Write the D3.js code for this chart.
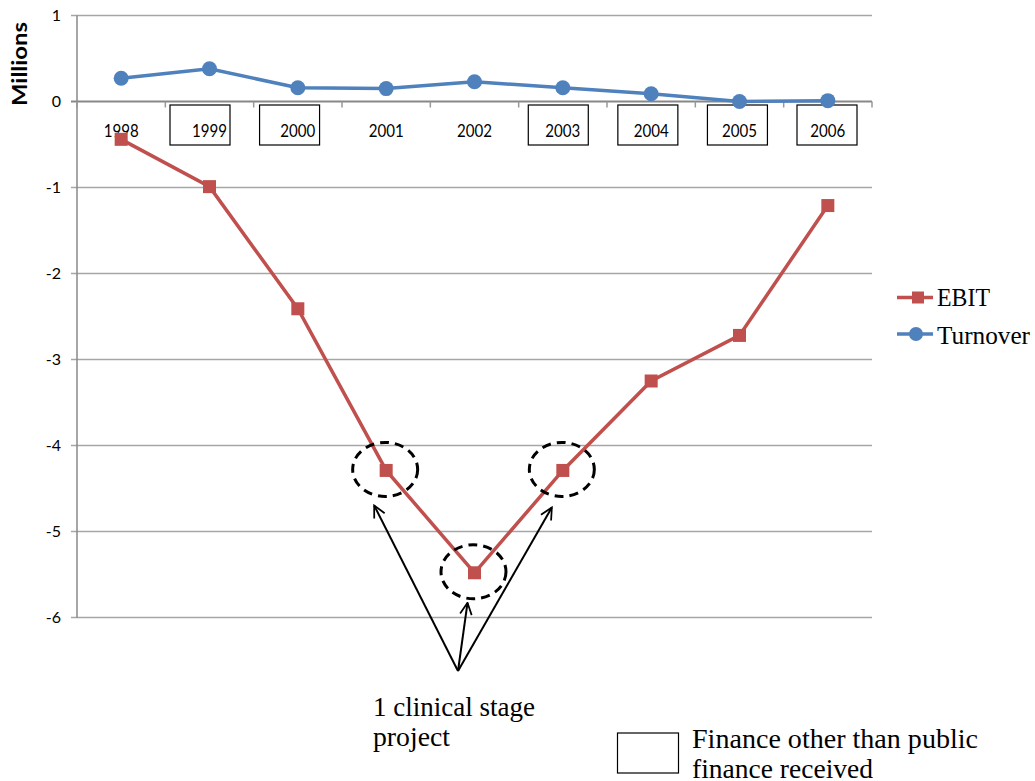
<!DOCTYPE html>
<html><head><meta charset="utf-8">
<script src="https://cdn.jsdelivr.net/npm/d3@7"></script>
<style>body{margin:0;background:#fff}svg{display:block}</style>
</head><body>
<script>
const years = ["1998","1999","2000","2001","2002","2003","2004","2005","2006"];
const turnover = [0.27,0.38,0.16,0.15,0.23,0.16,0.09,0.00,0.01];
const ebit = [-0.44,-0.99,-2.41,-4.29,-5.48,-4.29,-3.25,-2.72,-1.21];
const yTicks = [1,0,-1,-2,-3,-4,-5,-6];
const boxedYears = ["1999","2000","2003","2004","2005","2006"];
const highlighted = ["2001","2002","2003"];

const W=1035,H=781;
const svg=d3.select("body").append("svg").attr("width",W).attr("height",H);
const x=d3.scaleBand().domain(years).range([77,872]);
const y=d3.scaleLinear().domain([-6,1]).range([617.5,15.5]);
// hand-placed boxes follow a slightly different spacing than the categories
const boxX=d3.scaleLinear().domain([1,8]).range([170,797]);
const sans="Lato, 'Liberation Sans', sans-serif", serif="'Liberation Serif','Times New Roman',serif";

// gridlines
svg.append("g").selectAll("line").data(yTicks).join("line")
  .attr("x1",71).attr("x2",872).attr("y1",d=>y(d)).attr("y2",d=>y(d))
  .attr("stroke",d=>d===0?"#888":"#a6a6a6").attr("stroke-width",d=>d===0?2:1.5);
// y axis
svg.append("line").attr("x1",77).attr("x2",77).attr("y1",y(1)).attr("y2",y(-6)).attr("stroke","#888").attr("stroke-width",1.5);
svg.append("g").selectAll("text").data(yTicks).join("text")
  .attr("x",61).attr("y",d=>y(d)).attr("dy","0.36em").attr("text-anchor","end")
  .attr("font-family",sans).attr("font-size",16).attr("fill","#000").text(d=>d);
// category ticks on zero line
const bounds=years.map(d=>x(d)).concat([x.range()[1]]);
svg.append("g").selectAll("line").data(bounds).join("line")
  .attr("x1",d=>d).attr("x2",d=>d).attr("y1",y(0)).attr("y2",y(0)+6).attr("stroke","#999").attr("stroke-width",1.5);
// boxes
svg.append("g").selectAll("rect").data(boxedYears).join("rect")
  .attr("x",d=>boxX(years.indexOf(d))).attr("y",105).attr("width",60).attr("height",40)
  .attr("fill","#fff").attr("stroke","#000").attr("stroke-width",1.2);
// category labels
svg.append("g").selectAll("text").data(years).join("text")
  .attr("x",d=>x(d)+x.bandwidth()/2-17.5).attr("y",137)
  .attr("textLength",35).attr("lengthAdjust","spacingAndGlyphs")
  .attr("font-family",sans).attr("font-size",16.5).attr("fill","#000").text(d=>d);
// Millions
svg.append("text").attr("transform","translate(27,106) rotate(-90)")
  .attr("textLength",84).attr("lengthAdjust","spacingAndGlyphs")
  .attr("font-family",sans).attr("font-weight","bold").attr("font-size",21).text("Millions");

const cx=d=>x(d)+x.bandwidth()/2;
const line=d3.line().x(d=>cx(d[0])).y(d=>y(d[1]));
const tData=years.map((d,i)=>[d,turnover[i]]), eData=years.map((d,i)=>[d,ebit[i]]);
const blue="#4f81bd", red="#c0504d";
svg.append("path").attr("d",line(tData)).attr("fill","none").attr("stroke",blue).attr("stroke-width",3.5);
svg.append("g").selectAll("circle").data(tData).join("circle").attr("cx",d=>cx(d[0])).attr("cy",d=>y(d[1])).attr("r",7.5).attr("fill",blue);
svg.append("path").attr("d",line(eData)).attr("fill","none").attr("stroke",red).attr("stroke-width",3.5);
svg.append("g").selectAll("rect").data(eData).join("rect").attr("x",d=>cx(d[0])-6.5).attr("y",d=>y(d[1])-6.5).attr("width",13).attr("height",13).attr("fill",red);

function serifText(txt,tx,ty,size,len){
  svg.append("text").attr("font-family",serif).attr("font-size",size).attr("x",tx).attr("y",ty)
    .attr("textLength",len).attr("lengthAdjust","spacingAndGlyphs").text(txt);
}
// legend
const leg=[["EBIT",red,"rect",297.5,306,53],["Turnover",blue,"circle",334,344,93]];
leg.forEach(([name,c,shape,ly,ty,len])=>{
  svg.append("line").attr("x1",897).attr("x2",933).attr("y1",ly).attr("y2",ly).attr("stroke",c).attr("stroke-width",3.5);
  if(shape==="rect") svg.append("rect").attr("x",912).attr("y",ly-6).attr("width",12).attr("height",12).attr("fill",c);
  else svg.append("circle").attr("cx",916).attr("cy",ly).attr("r",7).attr("fill",c);
  serifText(name,937,ty,25,len);
});

// dashed ellipses
const hl=highlighted.map(d=>[d,ebit[years.indexOf(d)]]);
svg.append("g").selectAll("ellipse").data(hl).join("ellipse")
  .attr("cx",d=>cx(d[0])-1).attr("cy",d=>y(d[1])-1).attr("rx",32.5).attr("ry",27)
  .attr("fill","none").attr("stroke","#000").attr("stroke-width",3).attr("stroke-dasharray","9,6");
// arrows
const ox=458, oy=671;
svg.append("defs").append("marker").attr("id","ah").attr("viewBox","0 0 12 12").attr("refX",11).attr("refY",6)
  .attr("markerWidth",14).attr("markerHeight",14).attr("markerUnits","userSpaceOnUse").attr("orient","auto")
  .append("path").attr("d","M1,1 L11,6 L1,11").attr("fill","none").attr("stroke","#000").attr("stroke-width",1.5);
const tips=[[hl[0],-12,35],[hl[1],-7,30],[hl[2],-11,37]];
tips.forEach(([d,dx,dy])=>{
  svg.append("line").attr("x1",ox).attr("y1",oy).attr("x2",cx(d[0])+dx).attr("y2",y(d[1])+dy)
    .attr("stroke","#000").attr("stroke-width",2).attr("marker-end","url(#ah)");
});
serifText("1 clinical stage",373,716,28,162);
serifText("project",373,746,28,77);
// bottom legend
svg.append("rect").attr("x",617.5).attr("y",733).attr("width",61).attr("height",40).attr("fill","#fff").attr("stroke","#000").attr("stroke-width",1.2);
serifText("Finance other than public",692,748,28,286);
serifText("finance received",692,778,28,181);
</script>
</body></html>
